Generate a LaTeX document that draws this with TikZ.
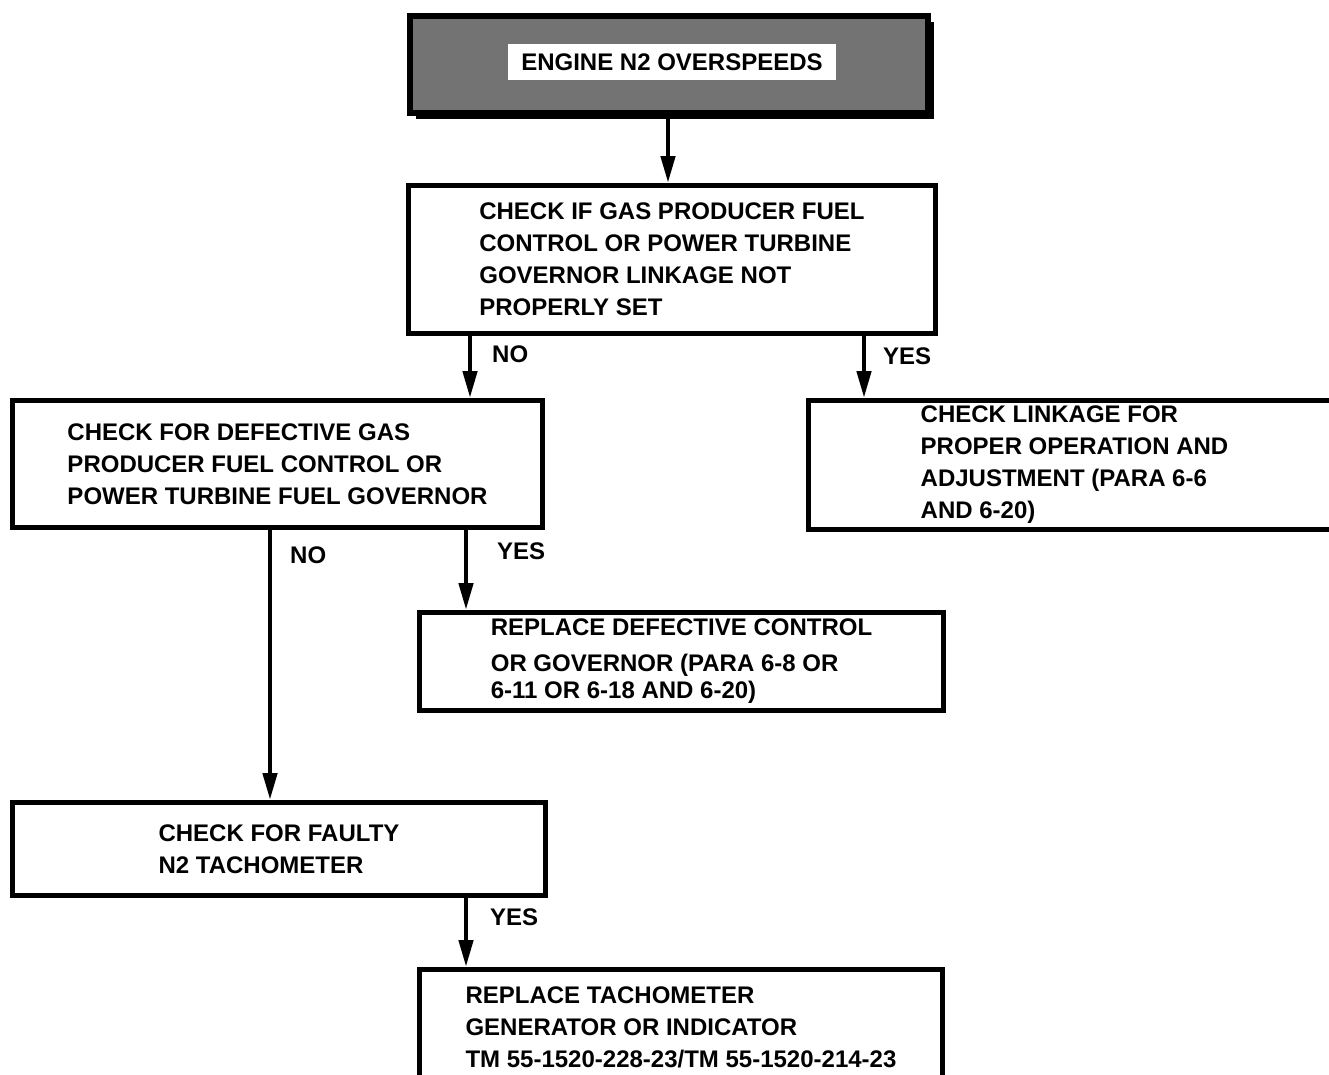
\documentclass[tikz,border=0pt]{standalone}
\usepackage{fontspec}
\setmainfont{Liberation Sans}
\usetikzlibrary{arrows.meta,shadows}
\begin{document}
\begin{tikzpicture}[x=1bp,y=-1bp,
  every node/.style={font=\fontsize{24bp}{32bp}\selectfont\bfseries},
  box/.style={draw, line width=5bp, rectangle, anchor=north west, align=left, inner sep=0pt},
  flow/.style={line width=4.5bp, -{Triangle[length=27bp,width=14bp]}},
  answer/.style={anchor=west, inner sep=0pt}]
\clip (0,0) rectangle (1329,1074);
\fill[white] (0,0) rectangle (1329,1074);

% heading box with halftone fill and drop shadow
\node[draw, line width=6bp, fill=black!55, anchor=north west, inner sep=0pt,
      minimum width=518bp, minimum height=97bp,
      drop shadow={shadow xshift=6bp, shadow yshift=-6bp, fill=black, opacity=1}]
      (start) at (407,13) {};
\node[fill=white, minimum width=328bp, minimum height=36bp, inner sep=0pt]
      (startlbl) at (672,62) {ENGINE N2 OVERSPEEDS};

% decision and action boxes
\node[box, minimum width=527bp, minimum height=148bp] (linkset) at (406,183)
  {CHECK IF GAS PRODUCER FUEL\\CONTROL OR POWER TURBINE\\GOVERNOR LINKAGE NOT\\PROPERLY SET};
\node[box, minimum width=530bp, minimum height=127bp] (defect) at (10,398)
  {CHECK FOR DEFECTIVE GAS\\PRODUCER FUEL CONTROL OR\\POWER TURBINE FUEL GOVERNOR};
\node[box, minimum width=532bp, minimum height=129bp] (linkage) at (806,398)
  {CHECK LINKAGE FOR\\PROPER OPERATION AND\\ADJUSTMENT (PARA 6-6\\AND 6-20)};
\node[box, minimum width=524bp, minimum height=98bp] (replctl) at (417,610)
  {REPLACE DEFECTIVE CONTROL\\[3.5bp]OR GOVERNOR (PARA 6-8 OR\\[-4.5bp]6-11 OR 6-18 AND 6-20)};
\node[box, minimum width=533bp, minimum height=93bp] (tacho) at (10,800)
  {CHECK FOR FAULTY\\N2 TACHOMETER};
\node[box, minimum width=523bp, minimum height=116bp] (repltach) at (417,967)
  {REPLACE TACHOMETER\\GENERATOR OR INDICATOR\\TM 55-1520-228-23/TM 55-1520-214-23};

% connector columns
\coordinate (xa) at (668,0);
\coordinate (xb) at (470,0);
\coordinate (xc) at (864,0);
\coordinate (xd) at (270,0);
\coordinate (xe) at (466,0);

\draw[flow] (start.south -| xa) -- (linkset.north -| xa);
\draw[flow] (linkset.south -| xb) -- (defect.north -| xb);
\draw[flow] (linkset.south -| xc) -- (linkage.north -| xc);
\draw[flow] (defect.south -| xd) -- (tacho.north -| xd);
\draw[flow] (defect.south -| xe) -- (replctl.north -| xe);
\draw[flow] (tacho.south -| xe) -- (repltach.north -| xe);

% branch labels
\node[answer] (no1) at (492,354) {NO};
\node[answer] (yes1) at (883,356) {YES};
\node[answer] (no2) at (290,555) {NO};
\node[answer] (yes2) at (497,551) {YES};
\node[answer] (yes3) at (490,917) {YES};
\end{tikzpicture}
\end{document}
